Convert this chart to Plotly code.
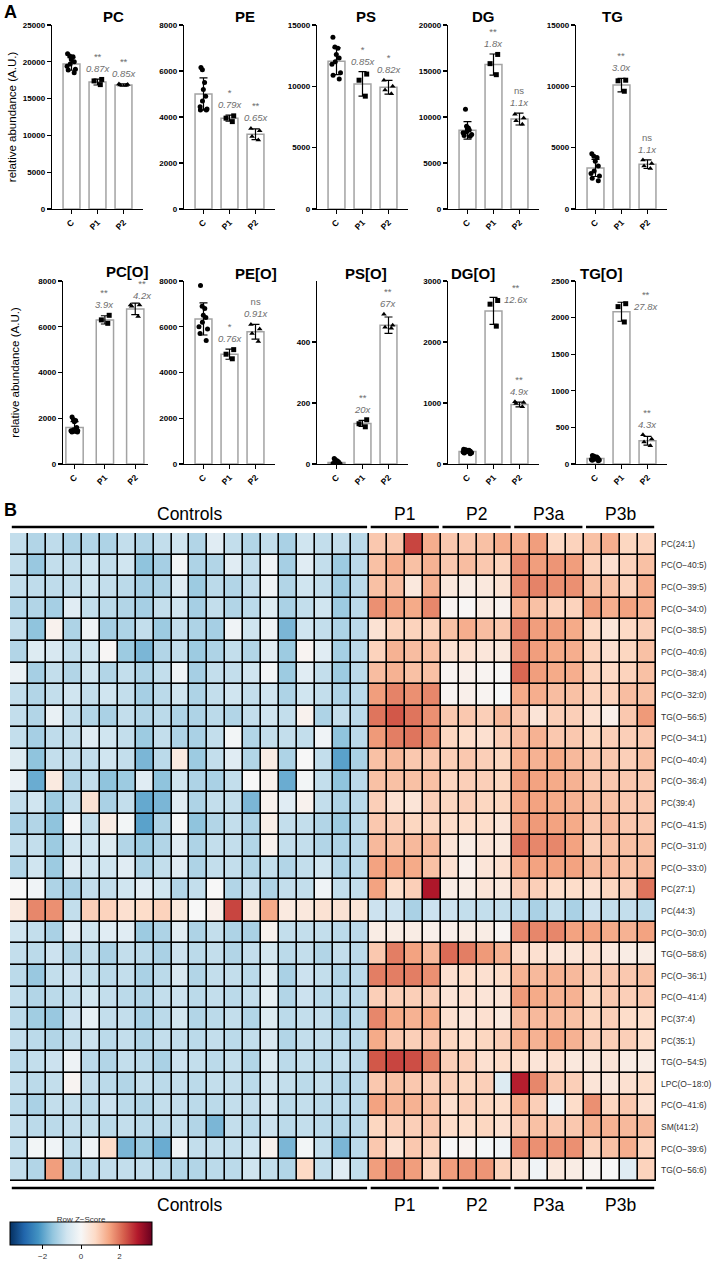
import plotly.graph_objects as go

W, H = 721, 1267
def fx(p): return p / W
def fy(p): return 1 - p / H

FONT = "Arial, Liberation Sans, Helvetica, sans-serif"
groups = ["C", "P1", "P2"]

# ---------------- Panel A data ----------------
PC_mean = [19700, 17250, 16850]; PC_sd = [850, 400, 150]
PC_C = [21100, 20800, 20700, 20300, 20000, 19700, 19400, 19000, 18900, 18500]
PC_P1 = [17600, 17400, 16900]; PC_P2 = [17000, 16900, 16850, 16800]
PC_sig = ["", "**", "**"]; PC_fold = ["", "0.87x", "0.85x"]

PE_mean = [5000, 3950, 3250]; PE_sd = [700, 130, 230]
PE_C = [6150, 6050, 5500, 5200, 4900, 4700, 4450, 4350, 4300, 4300]
PE_P1 = [4050, 3950, 3800]; PE_P2 = [3500, 3400, 3150, 3000]
PE_sig = ["", "*", "**"]; PE_fold = ["", "0.79x", "0.65x"]

PS_mean = [12050, 10200, 9920]; PS_sd = [1100, 1000, 560]
PS_C = [14000, 13200, 13100, 12600, 12300, 12000, 11800, 11100, 10900, 10600]
PS_P1 = [11000, 10500, 9200]; PS_P2 = [10500, 10000, 9700, 9400]
PS_sig = ["", "*", "*"]; PS_fold = ["", "0.85x", "0.82x"]

DG_mean = [8550, 15700, 9780]; DG_sd = [950, 1150, 650]
DG_C = [10850, 9000, 8800, 8700, 8600, 8400, 8300, 8100, 8000, 7900]
DG_P1 = [16800, 15800, 14600]; DG_P2 = [10300, 9900, 9600, 9200]
DG_sig = ["", "**", "ns"]; DG_fold = ["", "1.8x", "1.1x"]

TG_mean = [3350, 10100, 3650]; TG_sd = [700, 550, 350]
TG_C = [4500, 4300, 4200, 3900, 3500, 3100, 2900, 2700, 2500, 2300]
TG_P1 = [10500, 10450, 9600]; TG_P2 = [4000, 3700, 3500, 3300]
TG_sig = ["", "**", "ns"]; TG_fold = ["", "3.0x", "1.1x"]

PCO_mean = [1600, 6300, 6780]; PCO_sd = [250, 180, 250]
PCO_C = [2050, 1950, 1900, 1850, 1600, 1500, 1450, 1450, 1400, 1400]
PCO_P1 = [6500, 6300, 6150]; PCO_P2 = [6950, 6950, 6900, 6450]
PCO_sig = ["", "**", "**"]; PCO_fold = ["", "3.9x", "4.2x"]

PEO_mean = [6340, 4800, 5780]; PEO_sd = [700, 220, 320]
PEO_C = [7800, 6900, 6800, 6500, 6400, 6200, 6000, 5900, 5700, 5400]
PEO_P1 = [5000, 4800, 4600]; PEO_P2 = [6100, 5900, 5700, 5350]
PEO_sig = ["", "*", "ns"]; PEO_fold = ["", "0.76x", "0.91x"]

PSO_mean = [5, 133, 455]; PSO_sd = [6, 10, 27]
PSO_C = [18, 14, 10, 8, 5, 3, 2, 1, 0, 0]
PSO_P1 = [145, 132, 122]; PSO_P2 = [491, 455, 448, 445]
PSO_sig = ["", "**", "**"]; PSO_fold = ["", "20x", "67x"]

DGO_mean = [205, 2510, 975]; DGO_sd = [25, 220, 40]
DGO_C = [240, 235, 225, 220, 210, 200, 195, 185, 180, 170]
DGO_P1 = [2680, 2620, 2260]; DGO_P2 = [1020, 1010, 990, 940]
DGO_sig = ["", "**", "**"]; DGO_fold = ["", "12.6x", "4.9x"]

TGO_mean = [75, 2080, 318]; TGO_sd = [25, 130, 60]
TGO_C = [115, 105, 95, 85, 75, 65, 60, 55, 50, 45]
TGO_P1 = [2190, 2150, 1940]; TGO_P2 = [400, 340, 300, 250]
TGO_sig = ["", "**", "**"]; TGO_fold = ["", "27.8x", "4.3x"]

panel_titles = ["PC", "PE", "PS", "DG", "TG", "PC[O]", "PE[O]", "PS[O]", "DG[O]", "TG[O]"]
panel_ymax = [25000, 8000, 15000, 20000, 15000, 8000, 8000, 600, 3000, 2500]
panel_ticks = [[0, 5000, 10000, 15000, 20000, 25000], [0, 2000, 4000, 6000, 8000],
               [0, 5000, 10000, 15000], [0, 5000, 10000, 15000, 20000],
               [0, 5000, 10000, 15000], [0, 2000, 4000, 6000, 8000],
               [0, 2000, 4000, 6000, 8000], [0, 200, 400],
               [0, 1000, 2000, 3000], [0, 500, 1000, 1500, 2000, 2500]]

panels = [
    (PC_mean, PC_sd, [PC_C, PC_P1, PC_P2], PC_sig, PC_fold),
    (PE_mean, PE_sd, [PE_C, PE_P1, PE_P2], PE_sig, PE_fold),
    (PS_mean, PS_sd, [PS_C, PS_P1, PS_P2], PS_sig, PS_fold),
    (DG_mean, DG_sd, [DG_C, DG_P1, DG_P2], DG_sig, DG_fold),
    (TG_mean, TG_sd, [TG_C, TG_P1, TG_P2], TG_sig, TG_fold),
    (PCO_mean, PCO_sd, [PCO_C, PCO_P1, PCO_P2], PCO_sig, PCO_fold),
    (PEO_mean, PEO_sd, [PEO_C, PEO_P1, PEO_P2], PEO_sig, PEO_fold),
    (PSO_mean, PSO_sd, [PSO_C, PSO_P1, PSO_P2], PSO_sig, PSO_fold),
    (DGO_mean, DGO_sd, [DGO_C, DGO_P1, DGO_P2], DGO_sig, DGO_fold),
    (TGO_mean, TGO_sd, [TGO_C, TGO_P1, TGO_P2], TGO_sig, TGO_fold),
]

# ---------------- Panel B data ----------------
lipids = ["PC(24:1)", "PC(O\u221240:5)", "PC(O\u221239:5)", "PC(O\u221234:0)", "PC(O\u221238:5)",
          "PC(O\u221240:6)", "PC(O\u221238:4)", "PC(O\u221232:0)", "TG(O\u221256:5)", "PC(O\u221234:1)",
          "PC(O\u221240:4)", "PC(O\u221236:4)", "PC(39:4)", "PC(O\u221241:5)", "PC(O\u221231:0)",
          "PC(O\u221233:0)", "PC(27:1)", "PC(44:3)", "PC(O\u221230:0)", "TG(O\u221258:6)",
          "PC(O\u221236:1)", "PC(O\u221241:4)", "PC(37:4)", "PC(35:1)", "TG(O\u221254:5)",
          "LPC(O\u221218:0)", "PC(O\u221241:6)", "SM(t41:2)", "PC(O\u221239:6)", "TG(O\u221256:6)"]
group_names = ["Controls", "P1", "P2", "P3a", "P3b"]
group_sizes = [20, 4, 4, 4, 4]

zscores = [
 [-0.9,-1.1,-0.95,-1.15,-1.1,-1.15,-0.9,-1.1,-0.9,-0.75,-1.1,-0.45,-0.9,-1.1,-0.9,-1.2,-0.75,-0.9,-0.9,-1.0, 1.0,1.0,2.5,1.35, 1.0,1.0,1.1,1.35, 1.35,1.55,0.75,0.85, 1.1,1.35,0.8,0.85],
 [-0.9,-1.4,-0.9,-0.9,-0.75,-0.9,-0.75,-1.5,-1.25,-0.1,-1.15,-1.1,-0.45,-0.9,-0.15,-1.25,-0.45,-0.9,-1.35,-1.0, 1.1,1.35,1.1,1.3, 1.0,1.15,1.0,0.85, 1.8,1.55,1.65,1.55, 0.85,0.6,0.85,1.1],
 [-0.9,-0.95,-0.95,-0.9,-0.75,-0.9,-1.0,-1.25,-1.15,-0.45,-1.35,-1.0,-1.1,-0.9,-0.15,-1.1,-0.75,-0.9,-1.35,-1.0, 1.1,1.15,0.4,1.3, 0.4,0.3,0.4,0.55, 1.8,1.85,1.7,1.7, 1.1,1.1,0.85,1.35],
 [-1.1,-1.1,-1.25,-0.45,-0.9,-1.0,-1.1,-1.25,-0.9,-0.75,-1.25,-0.9,-1.1,-1.0,-0.5,-1.2,-0.9,-0.75,-1.35,-1.0, 1.7,1.55,1.4,1.8, 0.1,0.05,0.3,0.15, 1.35,1.1,0.85,0.85, 1.55,1.35,1.5,1.35],
 [-0.9,-1.5,0.15,-1.15,-0.15,-1.25,-1.15,-0.9,-1.35,-0.9,-1.15,-1.25,-0.15,-0.75,-0.15,-1.7,-0.75,-0.9,-1.15,-1.0, 0.55,0.85,0.85,0.85, 1.1,1.35,1.15,1.0, 1.95,1.55,1.55,1.4, 0.75,0.45,0.75,0.9],
 [-1.1,-0.5,-0.6,-0.9,-0.75,0.05,-1.35,-1.7,-1.1,-0.9,-1.35,-1.15,-0.9,-1.1,-0.45,-1.35,0.1,-0.45,-1.25,-1.0, 0.85,1.3,1.15,1.1, 0.55,0.6,0.45,0.4, 1.8,1.55,1.4,1.35, 0.85,0.6,0.8,1.1],
 [-0.25,-1.25,-0.9,-1.1,-0.75,-1.1,-0.9,-1.15,-0.9,-0.15,-1.25,-0.9,-0.9,-0.75,-0.1,-1.35,-0.45,-0.9,-1.35,-1.0, 1.15,1.3,1.1,1.1, 0.1,0.2,0.1,0.05, 2.15,1.55,1.4,1.35, 0.85,0.75,0.85,1.1],
 [-0.9,-1.1,-0.9,-0.75,-0.9,-0.75,-0.9,-1.25,-1.0,-0.75,-1.15,-0.9,-0.75,-0.9,-0.75,-1.15,-0.75,-0.9,-1.15,-1.0, 1.55,1.85,1.7,1.8, 0.1,0.2,0.1,0.0, 1.4,1.35,1.15,1.1, 0.85,0.85,1.15,1.1],
 [-0.9,-1.1,-0.3,-0.9,-1.1,-1.2,-0.9,-1.1,-1.0,-1.15,-1.15,-1.0,-1.1,-0.9,-0.75,-0.9,0.15,-1.15,-0.9,-1.0, 2.0,2.3,2.0,1.7, 1.0,1.0,0.9,1.2, 1.0,0.5,0.9,0.9, 0.6,0.2,1.0,1.6],
 [-0.9,-1.25,-0.95,-0.9,-0.45,-0.75,-0.9,-1.35,-0.9,-1.15,-1.2,-0.9,-0.1,-1.1,-0.9,-0.9,-0.9,-0.15,-1.5,-1.0, 1.6,1.9,2.0,1.7, 0.8,0.7,0.6,0.9, 1.2,1.3,1.0,1.0, 0.8,0.9,0.9,1.0],
 [-0.5,-1.5,-0.9,-0.9,-0.9,-0.75,-0.9,-1.7,-1.0,0.35,-1.35,-0.9,-0.45,-1.1,0.3,-1.15,0.0,-0.9,-2.0,-1.2, 1.1,1.2,1.0,1.0, 0.9,1.0,0.9,0.8, 1.4,1.3,1.4,1.2, 1.0,1.0,0.9,1.1],
 [-0.25,-1.85,0.35,-1.15,-0.9,-1.5,-1.35,-0.45,-1.5,-0.75,-1.15,-1.2,-0.9,0.0,0.15,-1.85,-0.1,-0.9,-1.5,-1.0, 1.1,1.1,1.1,1.1, 0.8,0.9,0.9,0.8, 1.6,1.5,1.4,1.3, 1.0,1.0,1.0,1.0],
 [-0.9,-0.75,-1.35,-0.9,0.55,-1.2,-0.9,-1.9,-1.7,-0.45,-1.15,-0.9,-0.9,-1.7,0.15,-0.45,0.15,-0.9,-1.15,-1.0, 0.9,0.6,0.5,0.9, 0.8,0.9,0.8,0.8, 1.5,1.5,1.4,1.3, 1.1,1.1,1.0,1.0],
 [-1.2,-1.1,-1.5,0.0,-0.9,0.3,-0.1,-2.0,-1.15,0.0,-1.5,-1.1,-0.9,-1.15,0.25,-0.9,-0.9,-1.1,-1.35,-1.0, 1.0,0.9,0.8,0.8, 0.7,0.7,0.7,0.5, 1.6,1.6,1.5,1.4, 1.0,1.2,1.0,1.0],
 [-0.9,-0.9,-1.35,-0.75,-0.75,-0.5,-1.1,-1.35,-1.1,-0.45,-1.15,-0.9,-0.9,-1.1,0.15,-0.9,-0.9,-1.1,-1.15,-1.0, 1.2,1.1,1.2,1.2, 0.5,0.3,0.5,0.4, 2.0,1.8,1.8,1.5, 0.9,1.1,1.1,1.1],
 [-1.1,-0.75,-1.35,-0.45,-0.75,-0.75,-0.45,-1.15,-0.9,-0.45,-1.15,-0.9,-0.9,-1.1,-0.9,-1.1,-0.9,-0.75,-1.15,-1.0, 1.5,1.5,1.4,1.1, 0.6,0.2,0.5,0.6, 1.5,1.5,1.5,1.5, 1.2,1.2,1.1,1.2],
 [0.0,-0.15,-1.15,-1.2,-0.9,-0.9,-0.75,-0.45,-0.75,-1.1,-0.9,0.0,-1.1,-0.9,-1.15,-0.9,-0.9,-0.15,-0.9,-0.9, 1.5,0.7,0.9,3.0, 0.3,0.3,0.5,0.4, 1.0,0.9,0.7,0.7, 0.6,0.8,0.9,2.0],
 [0.35,1.8,1.7,-0.9,0.9,0.85,0.6,0.7,0.85,0.4,0.0,0.2,2.5,0.35,1.4,0.35,0.4,0.55,0.55,0.5, -0.8,-0.8,-1.2,-0.8, -0.8,-0.9,-0.9,-0.9, -1.0,-1.2,-0.9,-1.2, -0.8,-0.9,-0.9,-1.0],
 [-0.75,-0.9,-1.2,-0.45,-0.75,-0.45,-0.45,-1.35,-1.15,-0.45,-1.15,-0.9,-1.15,-1.2,0.15,-0.9,-0.9,-0.9,-1.0,-1.0, 0.3,0.3,0.3,0.2, 0.2,0.3,0.3,0.1, 1.8,1.8,1.8,1.5, 1.5,1.4,1.3,1.5],
 [-0.9,-1.0,-0.8,-1.1,-0.9,-1.2,-0.9,-1.0,-1.2,-0.8,-1.0,-0.9,-1.1,-0.9,-0.7,-1.0,-0.9,-1.1,-0.9,-1.0, 1.0,1.9,1.5,1.2, 2.1,1.9,1.6,1.3, 0.6,0.6,0.5,0.5, 0.6,0.4,0.3,0.3],
 [-1.0,-1.4,-0.9,-0.8,-0.9,-1.0,-0.9,-1.2,-1.0,-0.6,-1.1,-0.9,-0.9,-1.0,-0.4,-1.2,-0.8,-0.9,-1.1,-1.0, 1.9,1.9,1.9,1.7, 0.6,0.7,0.6,0.7, 1.3,1.2,1.3,1.2, 0.9,1.0,1.0,1.1],
 [-0.9,-1.1,-1.0,-0.9,-0.7,-0.9,-1.0,-1.1,-0.9,-0.8,-1.0,-0.9,-1.0,-0.9,-0.3,-1.1,-0.8,-1.0,-1.0,-1.0, 0.9,0.9,0.9,0.9, 0.5,0.6,0.5,0.5, 1.6,1.4,1.3,1.3, 0.8,1.0,0.9,1.0],
 [-1.0,-1.3,-1.4,-0.8,-0.3,-0.9,-0.9,-1.2,-1.0,-0.7,-1.1,-1.0,-0.9,-1.1,-0.5,-1.0,-0.9,-0.9,-1.2,-1.0, 1.8,1.4,1.3,1.4, 0.6,0.5,0.6,0.4, 1.2,1.2,1.2,1.1, 0.8,0.9,0.7,0.7],
 [-0.9,-1.0,-1.1,-0.9,-0.8,-1.0,-0.9,-1.1,-0.9,-0.9,-1.0,-0.9,-1.0,-0.9,-0.6,-1.1,-0.9,-0.9,-1.0,-1.0, 1.4,1.0,0.9,1.0, 0.8,0.7,0.8,0.9, 1.4,1.3,1.5,1.3, 0.9,0.9,0.9,0.7],
 [-1.0,-0.9,-0.8,-0.2,-1.0,-1.1,-0.9,-1.0,-1.2,-0.8,-0.9,-1.0,-0.9,-1.1,-0.5,-1.0,-0.9,-1.0,-0.9,-1.0, 2.3,2.5,2.4,1.9, 0.9,0.9,0.6,0.7, 0.7,0.5,0.6,0.4, 0.4,0.5,0.3,0.3],
 [-0.9,-1.0,-0.9,0.1,-0.9,-1.0,-1.1,-0.9,-1.0,-0.9,-1.0,-0.9,-0.9,-1.0,-0.7,-0.9,-1.0,-0.9,-1.1,-1.0, 1.0,1.1,1.0,0.9, 0.9,0.8,0.9,-0.5, 2.9,1.8,1.0,0.9, 0.5,0.4,0.6,0.7],
 [-1.0,-1.2,-0.9,-0.9,-1.0,-0.8,-1.0,-1.1,-0.9,-0.9,-1.0,-1.0,-0.9,-0.9,-0.6,-1.0,-0.9,-1.0,-1.0,-1.0, 1.5,1.3,1.3,1.1, 0.6,0.9,0.8,0.7, 1.4,0.9,-0.2,0.7, 1.7,0.8,1.0,0.6],
 [-0.9,-1.0,-1.0,-0.9,-0.9,-1.0,-0.9,-1.0,-1.0,-0.9,-1.1,-1.7,-0.9,-1.0,-0.8,-1.0,-0.9,-1.0,-1.1,-1.0, 0.8,0.9,0.9,1.0, 0.7,0.7,0.8,0.6, 1.0,1.1,1.0,1.0, 1.3,1.3,1.2,1.2],
 [-0.9,-0.1,-0.15,-0.9,-0.15,0.7,-1.7,-1.35,-1.85,-0.15,-0.9,-0.9,-0.9,-0.75,0.15,-1.7,-0.1,-0.9,-1.7,-1.0, 1.0,0.6,1.0,0.85, 0.0,0.1,-0.05,-0.15, 1.8,1.7,1.7,1.7, 0.85,1.1,1.35,0.85],
 [-0.9,-1.1,1.55,-1.1,-1.0,-0.9,-0.9,-0.9,-1.0,-1.1,-1.1,-1.0,-1.0,-0.75,-0.9,-1.1,0.75,-0.9,-0.45,-0.9, 1.55,1.8,1.55,0.85, 1.55,1.65,1.65,0.85, 0.6,-0.15,0.4,0.3, 0.1,0.0,-0.45,0.85],
]

zlim = 3.7
rdbu = ["#053061", "#2166ac", "#4393c3", "#92c5de", "#d1e5f0", "#f7f7f7",
        "#fddbc7", "#f4a582", "#d6604d", "#b2182b", "#67001f"]
colorscale = [[i / (len(rdbu) - 1), c] for i, c in enumerate(rdbu)]

# ---------------- Figure ----------------
fig = go.Figure()
layout = dict(width=W, height=H, margin=dict(l=0, r=0, t=0, b=0, autoexpand=False),
              paper_bgcolor="white", plot_bgcolor="rgba(0,0,0,0)",
              font=dict(family=FONT, color="black"), showlegend=False,
              boxmode="overlay")

# per panel geometry: (axis left px, axis width px, category range, bar width)
std_geom = (91, [-0.75, 2.75], 0.65)
axis_left = [52, 184, 317, 448, 576]
geom_override = {5: (63, 85, [-0.38, 2.42], 0.57)}
row_px = [(25, 209), (281, 464)]
symbols = ["circle", "square", "triangle-up"]
annotations = []
shapes = []
# special placement tweaks (subplot index, group index) -> (xshift, yshift)
ann_tweak = {(5, 2): (7, 0), (8, 1): (22, -10), (9, 1): (24, -12)}
title_shift = {5: (-5, 1)}
ytitle_standoff = {0: 3, 5: 16}

for k, (mean, sd, pts, sig, fold) in enumerate(panels):
    r, c = divmod(k, 5)
    n = k + 1
    xa = "x" if n == 1 else f"x{n}"
    ya = "y" if n == 1 else f"y{n}"
    if k in geom_override:
        x0, aw, xr, bw = geom_override[k]
    else:
        x0 = axis_left[c]
        aw, xr, bw = std_geom
    top, bot = row_px[r]
    layout[f"xaxis{n}"] = dict(
        domain=[fx(x0), fx(x0 + aw)], anchor=ya, type="category", automargin=False,
        categoryorder="array", categoryarray=groups, range=xr,
        showline=True, linecolor="black", linewidth=1.3, ticks="outside",
        ticklen=4, tickwidth=1.2, tickcolor="black", tickangle=-45,
        tickfont=dict(size=8.5, family=FONT, weight="bold"), showgrid=False, zeroline=False)
    ydict = dict(
        domain=[fy(bot), fy(top)], anchor=xa, range=[0, panel_ymax[k]], automargin=False,
        tickvals=panel_ticks[k], tickformat="d", showline=True, linecolor="black", linewidth=1.3,
        ticks="outside", ticklen=4, tickwidth=1.2, tickcolor="black",
        tickfont=dict(size=8, family=FONT, weight="bold"), showgrid=False, zeroline=False)
    if k in ytitle_standoff:
        ydict["title"] = dict(text="relative abundance (A.U.)",
                              font=dict(size=11.5, family=FONT), standoff=ytitle_standoff[k])
    layout[f"yaxis{n}"] = ydict

    fig.add_trace(go.Bar(x=groups, y=mean, width=bw, xaxis=xa, yaxis=ya,
                         marker=dict(color="white", line=dict(color="#a3a3a3", width=1.5)),
                         error_y=dict(type="data", array=sd, visible=True, color="black",
                                      thickness=1.2, width=4),
                         hoverinfo="skip"))
    for g, p in enumerate(pts):
        fig.add_trace(go.Box(x=[groups[g]] * len(p), y=p, xaxis=xa, yaxis=ya,
                             boxpoints="all", jitter=0.8, pointpos=0, width=bw * 0.8,
                             fillcolor="rgba(0,0,0,0)",
                             line=dict(color="rgba(0,0,0,0)", width=0),
                             marker=dict(symbol=symbols[g], size=5, color="black"),
                             hoverinfo="skip"))
    # panel title
    tdx, tdy = title_shift.get(k, (0, 0))
    annotations.append(dict(text=f"<b>{panel_titles[k]}</b>",
                            x=fx(x0 + aw / 2 + 3 + tdx),
                            y=fy(top - 8 - tdy), xref="paper", yref="paper",
                            showarrow=False, font=dict(size=15, family=FONT),
                            yanchor="middle"))
    for g in (1, 2):
        ytop = max(max(pts[g]), mean[g] + sd[g])
        xs, ys = ann_tweak.get((k, g), (0, 3))
        annotations.append(dict(
            text=f"{sig[g]}<br><i>{fold[g]}</i>", x=groups[g], y=ytop, xref=xa, yref=ya,
            xanchor="center", yanchor="bottom", yshift=ys, xshift=xs, showarrow=False,
            font=dict(size=9.5, family=FONT, color="#6e6e6e")))

# panel letters
annotations.append(dict(text="<b>A</b>", x=fx(2), y=fy(12), xref="paper", yref="paper",
                        xanchor="left", yanchor="middle", showarrow=False, font=dict(size=18)))
annotations.append(dict(text="<b>B</b>", x=fx(2), y=fy(510), xref="paper", yref="paper",
                        xanchor="left", yanchor="middle", showarrow=False, font=dict(size=18)))

# ---------------- Heatmap ----------------
ncol = sum(group_sizes)
hx, hy = "x11", "y11"
layout["xaxis11"] = dict(domain=[fx(10), fx(656)], anchor=hy, range=[-0.5, ncol - 0.5],
                         showticklabels=False, showgrid=False, zeroline=False, ticks="",
                         showline=False, automargin=False)
layout["yaxis11"] = dict(domain=[fy(1181), fy(533)], anchor=hx, side="right", automargin=False,
                         type="category", categoryorder="array", categoryarray=lipids,
                         autorange="reversed", showgrid=False, zeroline=False, ticks="",
                         showline=False, tickfont=dict(size=8.5, family=FONT, color="#333"),
                         ticklabelstandoff=4)

fig.add_trace(go.Heatmap(
    z=zscores, x=list(range(ncol)), y=lipids, xaxis=hx, yaxis=hy,
    colorscale=colorscale, zmin=-zlim, zmax=zlim, xgap=1.6, ygap=1.6, hoverinfo="skip",
    colorbar=dict(orientation="h", x=fx(10), xanchor="left", y=fy(1213), yanchor="top",
                  len=142, lenmode="pixels", thickness=23, xpad=0, ypad=0,
                  outlinewidth=1, outlinecolor="black",
                  title=dict(text="Row Z\u2212Score", side="top", font=dict(size=8, color="#333")),
                  tickvals=[-2, 0, 2], ticktext=["\u22122", "0", "2"], ticks="outside",
                  ticklen=4, tickcolor="black", tickfont=dict(size=8, color="#333"))))

shapes.append(dict(type="rect", xref="x11 domain", yref="y11 domain", x0=0, x1=1, y0=0, y1=1,
                   fillcolor="black", line=dict(width=0), layer="below"))

start = 0
for name, size in zip(group_names, group_sizes):
    a, b = start - 0.5 + 0.1, start + size - 0.5 - 0.1
    for ypx in (527, 1188):
        shapes.append(dict(type="line", xref=hx, yref="paper", x0=a, x1=b,
                           y0=fy(ypx), y1=fy(ypx), line=dict(color="black", width=2.6)))
    for ypx in (514, 1205):
        annotations.append(dict(text=name, x=(a + b) / 2, y=fy(ypx), xref=hx, yref="paper",
                                showarrow=False, yanchor="middle",
                                font=dict(size=17.5, family=FONT)))
    start += size

layout["annotations"] = annotations
layout["shapes"] = shapes
fig.update_layout(**layout)
fig.write_html("out.html", config={"displayModeBar": False, "staticPlot": True},
               post_script="document.body.style.margin='0px';document.body.style.overflow='hidden';")
